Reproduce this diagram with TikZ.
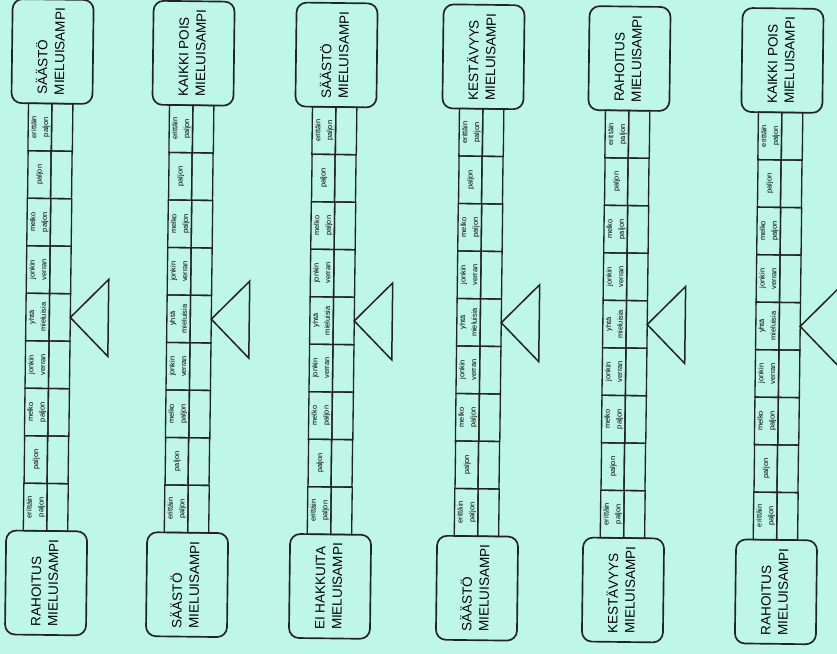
\documentclass[tikz,border=0pt]{standalone}
\usepackage{fontspec}
\setmainfont{Liberation Sans}
\usepackage{graphicx}
\usetikzlibrary{positioning}
\definecolor{paper}{RGB}{190,246,232}
\definecolor{ink}{RGB}{35,35,35}
\tikzset{
  endbox/.style={rectangle, rounded corners=3mm, draw=ink, line width=0.5mm, minimum width=24.3mm, minimum height=31.2mm, inner sep=0pt, outer sep=0pt, font=\fontsize{11.5}{14.5}\selectfont},
  cellbox/.style={rectangle, draw=ink, line width=0.4mm, minimum width=6.9mm, minimum height=14.25mm, inner sep=0pt, outer sep=0pt, font=\fontsize{6.3}{10}\selectfont},
  blankbox/.style={cellbox, minimum width=6.3mm},
  fulcrum/.style={draw=ink, line width=0.45mm, line join=miter}
}
\newcommand{\sidetext}[1]{\rotatebox{90}{\begin{tabular}{@{}l@{}}#1\end{tabular}}}
\newcommand{\sidecell}[1]{\rotatebox{90}{\begin{tabular}{@{}c@{}}#1\end{tabular}}}

\begin{document}
\begin{tikzpicture}[x=0.3mm, y=-0.3mm]
    % Paper
    \fill[paper] (0,0) rectangle (837,654);
    \clip (0,0) rectangle (837,654);

    \begin{scope}[rotate around={-0.7:(418,327)}, transform shape]
    \foreach \i/\xl/\toptext/\bottext in {
        1/26/{SÄÄSTÖ\\MIELUISAMPI}/{RAHOITUS\\MIELUISAMPI},
        2/167/{KAIKKI POIS\\MIELUISAMPI}/{SÄÄSTÖ\\MIELUISAMPI},
        3/310/{SÄÄSTÖ\\MIELUISAMPI}/{EI HAKKUITA\\MIELUISAMPI},
        4/457/{KESTÄVYYS\\MIELUISAMPI}/{SÄÄSTÖ\\MIELUISAMPI},
        5/603/{RAHOITUS\\MIELUISAMPI}/{KESTÄVYYS\\MIELUISAMPI},
        6/756/{KAIKKI POIS\\MIELUISAMPI}/{RAHOITUS\\MIELUISAMPI}}{
      % Answer cells
      \foreach \j/\txt in {1/{erittäin\\paljon}, 2/paljon, 3/{melko\\paljon},
          4/{jonkin\\verran}, 5/{yhtä\\mieluisia}, 6/{jonkin\\verran},
          7/{melko\\paljon}, 8/paljon, 9/{erittäin\\paljon}}{
        \node[cellbox] (c\i-\j) at ({\xl+11.5},{108+(\j-0.5)*47.5}) {\sidecell{\txt}};
        \node[blankbox, right=0pt of c\i-\j] (e\i-\j) {};
      }
      % End boxes
      \node[endbox, above=0pt of c\i-1.north east] (t\i) {\sidetext{\toptext}};
      \node[endbox, below=0pt of c\i-9.south east] (b\i) {\sidetext{\bottext}};
      % Fulcrum
      \draw[fulcrum] (e\i-5.east) -- ++(38,-38.5) -- ++(0,77) -- cycle;
    }
    \end{scope}
\end{tikzpicture}
\end{document}
